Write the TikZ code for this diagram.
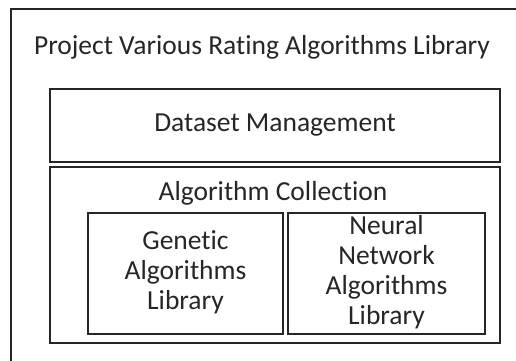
\documentclass[tikz,border=0pt]{standalone}
\usepackage{fontspec}
\setmainfont[Ligatures=NoCommon]{Carlito}
\begin{document}
\begin{tikzpicture}[x=1pt,y=-1pt,
  box/.style={draw=black!85, line width=1.5pt, inner sep=0pt, outer sep=0pt, anchor=north west},
  lbl/.style={font=\fontsize{27.5}{30}\selectfont, text=black!85, align=center, inner sep=0pt}]
\clip (0,0) rectangle (516,360);
\fill[white] (0,0) rectangle (516,360);
\node[box, minimum width=530pt, minimum height=380pt] (outer) at (11,9) {};
\node[lbl] (title) at (262,47) {Project Various Rating Algorithms Library};
\node[box, minimum width=450pt, minimum height=73pt] (data) at (50,89) {};
\node[lbl] (datat) at (data.center) {Dataset Management};
\node[box, minimum width=450pt, minimum height=176pt] (algo) at (50,167) {};
\node[lbl] (algot) at (273,193) {Algorithm Collection};
\node[box, minimum width=195pt, minimum height=121pt] (gen) at (88,213) {};
\node[lbl] (gent) at (185.5,272) {Genetic\\Algorithms\\Library};
\node[box, minimum width=197pt, minimum height=121pt] (nn) at (288,213) {};
\node[lbl] (nnt) at (386.5,272) {Neural\\Network\\Algorithms\\Library};
\end{tikzpicture}
\end{document}
